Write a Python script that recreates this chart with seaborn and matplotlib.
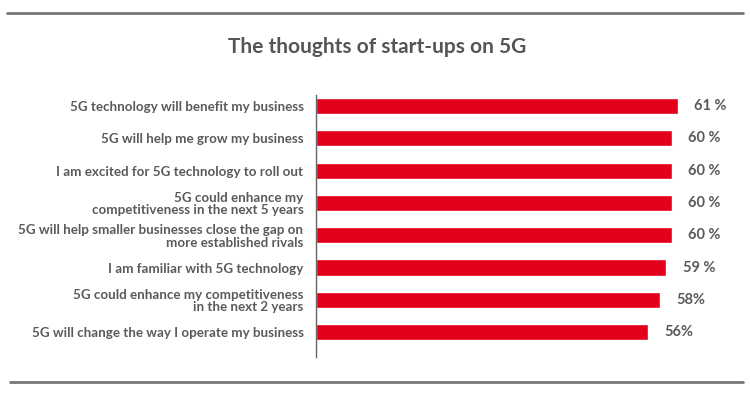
import numpy as np
import pandas as pd
import matplotlib
matplotlib.use("Agg")
import matplotlib.pyplot as plt
import seaborn as sns
from matplotlib.lines import Line2D

# ==========================================
# data
# ==========================================
statements = [
    "5G technology will benefit my business",
    "5G will help me grow my business",
    "I am excited for 5G technology to roll out",
    "5G could enhance my\ncompetitiveness in the next 5 years",
    "5G will help smaller businesses close the gap on\nmore established rivals",
    "I am familiar with 5G technology",
    "5G could enhance my competitiveness\nin the next 2 years",
    "5G will change the way I operate my business",
]
shares = [61, 60, 60, 60, 60, 59, 58, 56]
share_labels = ["61 %", "60 %", "60 %", "60 %", "60 %", "59 %", "58%", "56%"]

df = pd.DataFrame({"statement": statements, "share": shares})

# ==========================================
# style
# ==========================================
sns.set_style("white")
plt.rcParams["font.family"] = ["Lato", "DejaVu Sans"]
red = "#e3001b"
grey_txt = "#5a5a5a"

fig = plt.figure(figsize=(7.5, 3.96), dpi=100)
ax = fig.add_axes([316 / 750, 1 - 357 / 396, 424 / 750, 262 / 396])

sns.barplot(data=df, x="share", y="statement", orient="h", color=red,
            width=0.5, saturation=1, ax=ax)

ax.set_xlim(0, 424 / 5.93)
ax.set_ylim(7.77, -0.34)
ax.set_xlabel("")
ax.set_ylabel("")
ax.set_xticks([])
sns.despine(ax=ax, top=True, right=True, bottom=True, left=False)
ax.spines["left"].set_color("#666666")
ax.spines["left"].set_linewidth(1.0)
ax.tick_params(axis="y", length=0, pad=9)
for lab in ax.get_yticklabels():
    lab.set_fontsize(9.6)
    lab.set_fontweight("bold")
    lab.set_color(grey_txt)
    lab.set_linespacing(1.05)

for i, (v, t) in enumerate(zip(shares, share_labels)):
    ax.annotate(t, xy=(v, i), xytext=(12, 0), textcoords="offset points",
                va="center", ha="left", fontsize=10.5, fontweight="bold",
                color=grey_txt, annotation_clip=False)

# title and frame lines
fig.text(377 / 750, 1 - 47 / 396, "The thoughts of start-ups on 5G",
         ha="center", va="center", fontsize=15, fontweight="bold", color="#555555")
fig.add_artist(Line2D([7 / 750, 743 / 750], [1 - 13 / 396, 1 - 13 / 396],
                      color="#777777", linewidth=2))
fig.add_artist(Line2D([10 / 750, 743 / 750], [1 - 382 / 396, 1 - 382 / 396],
                      color="#777777", linewidth=2))

plt.savefig("out.png", dpi=100)
plt.close()
